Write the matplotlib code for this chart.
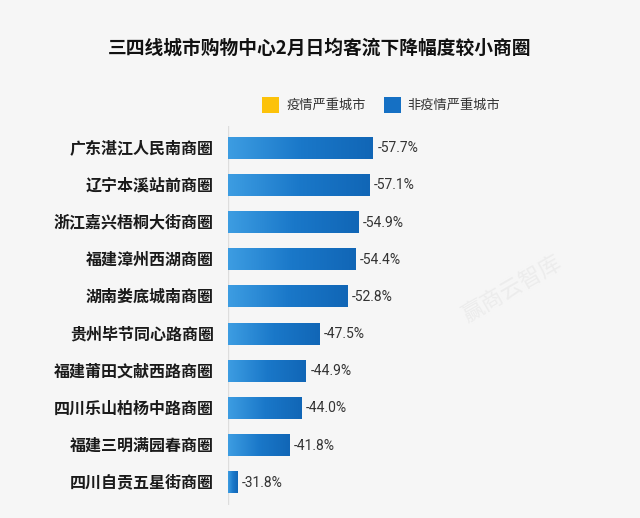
import numpy as np
import matplotlib.pyplot as plt
from matplotlib.patches import Rectangle
from matplotlib.colors import LinearSegmentedColormap

plt.rcParams['font.family'] = ['Noto Sans CJK SC', 'DejaVu Sans']

# Данные
districts = ['广东湛江人民南商圈', '辽宁本溪站前商圈', '浙江嘉兴梧桐大街商圈', '福建漳州西湖商圈',
             '湖南娄底城南商圈', '贵州毕节同心路商圈', '福建莆田文献西路商圈', '四川乐山柏杨中路商圈',
             '福建三明满园春商圈', '四川自贡五星街商圈']
drop = [57.7, 57.1, 54.9, 54.4, 52.8, 47.5, 44.9, 44.0, 41.8, 31.8]
legend_names = ['疫情严重城市', '非疫情严重城市']
title = '三四线城市购物中心2月日均客流下降幅度较小商圈'

bg = '#f6f6f6'
fig = plt.figure(figsize=(6.4, 5.18), dpi=100, facecolor=bg)
ax = fig.add_axes([0.356, 0.025, 0.6125, 0.732], facecolor=bg)

x0 = 30
ax.set_xlim(x0, 105)
ax.set_ylim(len(drop) - 0.4, -0.6)

# градиентная заливка столбцов
grad = np.linspace(0, 1, 256).reshape(1, -1)
cmap = LinearSegmentedColormap.from_list('bl', ['#3d9de2', '#1a78c9', '#1166b6'])
h = 0.57
for i, v in enumerate(drop):
    ax.imshow(grad, cmap=cmap, aspect='auto', extent=(x0, v, i + h / 2, i - h / 2),
              interpolation='bilinear', zorder=2)
    ax.text(v + 0.9, i, '-%.1f%%' % v, va='center', ha='left', fontsize=10,
            color='#333333', family=['Roboto', 'DejaVu Sans'])
    fig.text(0.334, ax.transData.transform((0, i))[1] / fig.bbox.height, districts[i],
             ha='right', va='center', fontsize=11.5, fontweight='bold', color='#1a1a1a')

ax.set_xlim(x0, 105)
ax.set_ylim(len(drop) - 0.4, -0.6)
ax.axvline(x0, color='#dddddd', lw=1, zorder=1)
for s in ax.spines.values():
    s.set_visible(False)
ax.set_xticks([])
ax.set_yticks([])

fig.text(0.5, 0.907, title, ha='center', va='center', fontsize=13.5, fontweight='bold', color='#111111')

# легенда
fig.patches.append(Rectangle((0.41, 0.781), 0.026, 0.032, transform=fig.transFigure,
                             facecolor='#fcc20a', edgecolor='none'))
fig.text(0.447, 0.797, legend_names[0], ha='left', va='center', fontsize=9.5, color='#333333')
fig.patches.append(Rectangle((0.6, 0.781), 0.026, 0.032, transform=fig.transFigure,
                             facecolor='#1570c4', edgecolor='none'))
fig.text(0.637, 0.797, legend_names[1], ha='left', va='center', fontsize=9.5, color='#333333')

# водяной знак
fig.text(0.8, 0.44, '赢商云智库', rotation=30, fontsize=16, color='#ececec',
         ha='center', va='center', zorder=0)

fig.savefig('out.png', dpi=100, facecolor=bg)
